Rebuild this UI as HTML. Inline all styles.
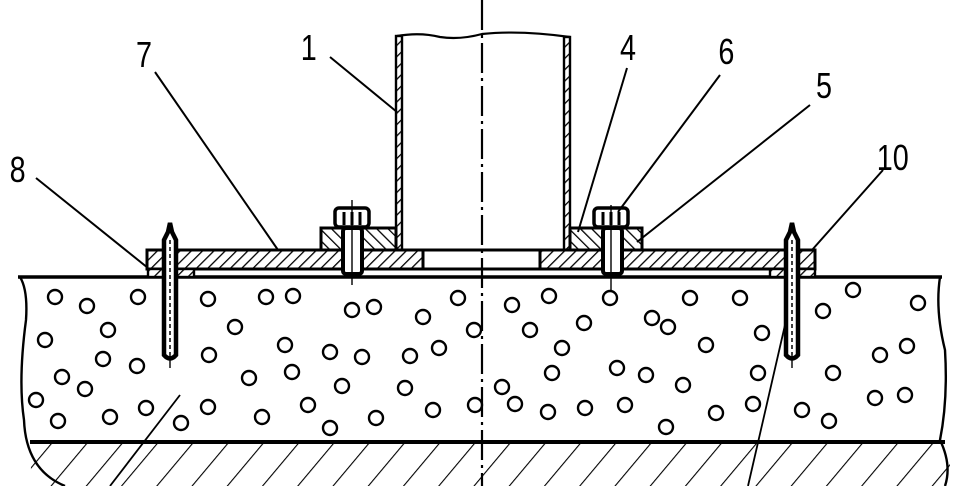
<!DOCTYPE html>
<html><head><meta charset="utf-8"><style>
html,body{margin:0;padding:0;background:#fff;}
svg{display:block}
text{font-family:"Liberation Sans",sans-serif;font-size:36px;fill:#000}
</style></head><body>
<svg width="960" height="486" viewBox="0 0 960 486" xmlns="http://www.w3.org/2000/svg">
<defs>
<pattern id="h" patternUnits="userSpaceOnUse" width="8" height="8" patternTransform="rotate(45)">
<rect width="8" height="8" fill="#fff"/><line x1="0" y1="0" x2="0" y2="8" stroke="#000" stroke-width="2.6"/></pattern>
<pattern id="h2" patternUnits="userSpaceOnUse" width="8" height="8" patternTransform="rotate(-45)">
<rect width="8" height="8" fill="#fff"/><line x1="0" y1="0" x2="0" y2="8" stroke="#000" stroke-width="2.6"/></pattern>
<pattern id="g" patternUnits="userSpaceOnUse" width="27" height="60" patternTransform="rotate(40)">
<rect width="27" height="60" fill="#fff"/><line x1="0" y1="0" x2="0" y2="60" stroke="#000" stroke-width="2.2"/></pattern>
<clipPath id="gc"><path d="M30 442 L945 442 Q955 465 945 486 L30 486 Q32 460 30 442Z"/></clipPath>
</defs>
<g fill="none" stroke="#000" stroke-width="2.4">
<rect x="0" y="442" width="960" height="44" fill="url(#g)" clip-path="url(#gc)" stroke="none"/>
<line x1="30" y1="442" x2="945" y2="442" stroke-width="4"/>
<path d="M20 277 Q28 290 26 320 Q18 380 24 420 Q26 470 65 486"/>
<path d="M940 277 Q935 310 945 350 Q948 400 940 440 Q952 465 945 486"/>
<line x1="18" y1="277" x2="942" y2="277" stroke-width="3.5"/>
<line x1="180" y1="395" x2="110" y2="486" stroke-width="1.8"/>
<line x1="785" y1="325" x2="748" y2="486" stroke-width="1.8"/>
<path d="M397 36 Q420 32 440 37 Q460 40 482 34 Q520 30 570 37" stroke-width="2.2"/>
<rect x="396" y="36" width="6" height="214" fill="url(#h)" stroke-width="2.4"/>
<rect x="564" y="37" width="6" height="213" fill="url(#h)" stroke-width="2.4"/>
<rect x="147" y="250" width="276" height="19" fill="url(#h)" stroke-width="3"/>
<rect x="540" y="250" width="275" height="19" fill="url(#h)" stroke-width="3"/>
<rect x="423" y="250" width="117" height="19" stroke-width="3"/>
<rect x="148" y="269" width="46" height="8" fill="url(#h)"/>
<rect x="770" y="269" width="45" height="8" fill="url(#h)"/>
<rect x="321" y="228" width="75" height="22" fill="url(#h2)" stroke-width="3"/>
<rect x="570" y="228" width="72" height="22" fill="url(#h2)" stroke-width="3"/>
<rect x="335" y="208" width="34" height="19" rx="4" fill="#fff" stroke-width="3.5"/>
<line x1="344" y1="212" x2="344" y2="225" stroke-width="3"/><line x1="352" y1="212" x2="352" y2="225" stroke-width="3"/><line x1="360" y1="212" x2="360" y2="225" stroke-width="3"/>
<rect x="343" y="228" width="19" height="46" rx="3" fill="#fff" stroke-width="4"/>
<line x1="352" y1="200" x2="352" y2="285" stroke-width="1.4"/>
<rect x="594" y="208" width="34" height="19" rx="4" fill="#fff" stroke-width="3.5"/>
<line x1="603" y1="212" x2="603" y2="225" stroke-width="3"/><line x1="611" y1="212" x2="611" y2="225" stroke-width="3"/><line x1="619" y1="212" x2="619" y2="225" stroke-width="3"/>
<rect x="603" y="228" width="19" height="46" rx="3" fill="#fff" stroke-width="4"/>
<line x1="611" y1="205" x2="611" y2="290" stroke-width="1.4"/>
<path d="M164 240 L168 232 L170 223 L172 232 L176 240 L176 355 Q170 362 164 355Z" fill="#fff" stroke-width="4.5"/>
<line x1="170" y1="240" x2="170" y2="355" stroke-dasharray="4 3" stroke-width="1.5"/>
<line x1="170" y1="355" x2="170" y2="368" stroke-width="1.4"/>
<path d="M786 240 L790 232 L792 223 L794 232 L798 240 L798 355 Q792 362 786 355Z" fill="#fff" stroke-width="4.5"/>
<line x1="792" y1="240" x2="792" y2="355" stroke-dasharray="4 3" stroke-width="1.5"/>
<line x1="792" y1="355" x2="792" y2="368" stroke-width="1.4"/>
<line x1="482" y1="0" x2="482" y2="486" stroke-width="2.2" stroke-dasharray="30 5 3 5"/>
<g stroke-width="2">
<line x1="330" y1="57" x2="397" y2="112"/>
<line x1="155" y1="72" x2="278" y2="250"/>
<line x1="36" y1="178" x2="148" y2="268"/>
<line x1="627" y1="68" x2="578" y2="232"/>
<line x1="720" y1="75" x2="618" y2="212"/>
<line x1="810" y1="105" x2="637" y2="242"/>
<line x1="883" y1="170" x2="812" y2="250"/>
</g>
<g stroke-width="2.4">
<circle cx="55" cy="297" r="7"/><circle cx="87" cy="306" r="7"/><circle cx="138" cy="297" r="7"/><circle cx="45" cy="340" r="7"/><circle cx="108" cy="330" r="7"/><circle cx="103" cy="359" r="7"/><circle cx="137" cy="366" r="7"/><circle cx="62" cy="377" r="7"/><circle cx="85" cy="389" r="7"/><circle cx="36" cy="400" r="7"/><circle cx="58" cy="421" r="7"/><circle cx="110" cy="417" r="7"/><circle cx="146" cy="408" r="7"/><circle cx="181" cy="423" r="7"/><circle cx="208" cy="299" r="7"/><circle cx="209" cy="355" r="7"/><circle cx="235" cy="327" r="7"/><circle cx="266" cy="297" r="7"/><circle cx="293" cy="296" r="7"/><circle cx="285" cy="345" r="7"/><circle cx="292" cy="372" r="7"/><circle cx="249" cy="378" r="7"/><circle cx="262" cy="417" r="7"/><circle cx="352" cy="310" r="7"/><circle cx="374" cy="307" r="7"/><circle cx="330" cy="352" r="7"/><circle cx="362" cy="357" r="7"/><circle cx="410" cy="356" r="7"/><circle cx="423" cy="317" r="7"/><circle cx="458" cy="298" r="7"/><circle cx="439" cy="348" r="7"/><circle cx="405" cy="388" r="7"/><circle cx="342" cy="386" r="7"/><circle cx="308" cy="405" r="7"/><circle cx="330" cy="428" r="7"/><circle cx="376" cy="418" r="7"/><circle cx="433" cy="410" r="7"/><circle cx="208" cy="407" r="7"/>
<circle cx="512" cy="305" r="7"/><circle cx="549" cy="296" r="7"/><circle cx="610" cy="298" r="7"/><circle cx="690" cy="298" r="7"/><circle cx="740" cy="298" r="7"/><circle cx="530" cy="330" r="7"/><circle cx="584" cy="323" r="7"/><circle cx="562" cy="348" r="7"/><circle cx="652" cy="318" r="7"/><circle cx="668" cy="327" r="7"/><circle cx="552" cy="373" r="7"/><circle cx="617" cy="368" r="7"/><circle cx="706" cy="345" r="7"/><circle cx="762" cy="333" r="7"/><circle cx="753" cy="404" r="7"/><circle cx="823" cy="311" r="7"/><circle cx="853" cy="290" r="7"/><circle cx="918" cy="303" r="7"/><circle cx="907" cy="346" r="7"/><circle cx="880" cy="355" r="7"/><circle cx="833" cy="373" r="7"/><circle cx="905" cy="395" r="7"/><circle cx="875" cy="398" r="7"/><circle cx="802" cy="410" r="7"/><circle cx="829" cy="421" r="7"/><circle cx="758" cy="373" r="7"/><circle cx="646" cy="375" r="7"/><circle cx="683" cy="385" r="7"/><circle cx="515" cy="404" r="7"/><circle cx="548" cy="412" r="7"/><circle cx="585" cy="408" r="7"/><circle cx="625" cy="405" r="7"/><circle cx="666" cy="427" r="7"/><circle cx="716" cy="413" r="7"/><circle cx="502" cy="387" r="7"/><circle cx="474" cy="330" r="7"/><circle cx="475" cy="405" r="7"/>
</g>
</g>
<g transform="scale(0.8,1)">
<text x="376" y="60">1</text>
<text x="170" y="67">7</text>
<text x="12" y="182">8</text>
<text x="775" y="60">4</text>
<text x="898" y="64">6</text>
<text x="1020" y="98">5</text>
<text x="1096" y="170">10</text>
</g>
</svg>
</body></html>
